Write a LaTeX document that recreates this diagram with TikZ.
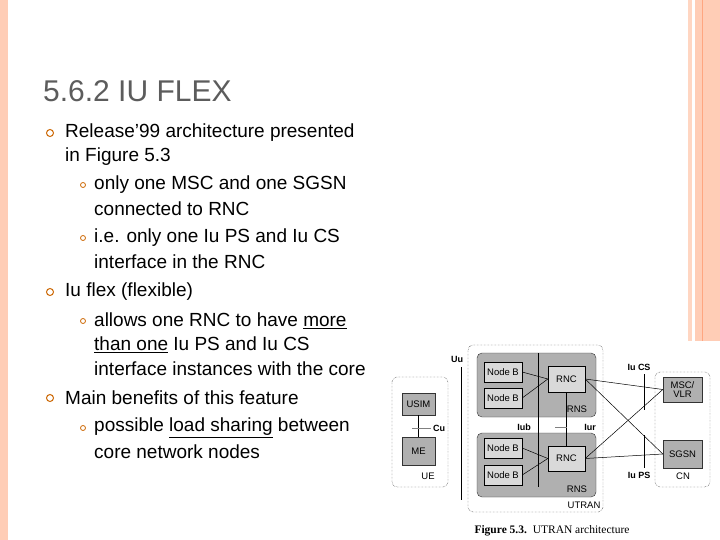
\documentclass[tikz,border=0pt]{standalone}
\usepackage{fontspec}
\setmainfont{Liberation Sans}
\newfontfamily\capfont{Liberation Serif}
\begin{document}
\begin{tikzpicture}[x=1pt,y=-1pt,
  txt/.style={anchor=west,inner sep=0,font=\fontsize{19}{21}\selectfont},
  bul/.style={draw=orange!80!black,line width=1pt,circle,inner sep=0,minimum size=7pt},
  sbul/.style={draw=orange!80!black,line width=0.8pt,circle,inner sep=0,minimum size=5pt},
  fs/.style={font=\fontsize{9.5}{10}\selectfont},
  lab/.style={inner sep=0,font=\fontsize{9}{9}\selectfont\bfseries},
  dk/.style={fill=gray!62,draw=gray!40!black,line width=0.4pt,fs,inner sep=0},
  lt/.style={fill=gray!30,draw=black,line width=0.4pt,fs,inner sep=0},
  dot/.style={draw=black,densely dotted,rounded corners=5pt,line width=0.4pt},
  ln/.style={line width=0.5pt}]
\useasboundingbox (0,0) rectangle (720,540);
\fill[white] (0,0) rectangle (720,540);
\fill[orange!30!pink!60] (0,0) rectangle (8,540);
\fill[orange!30!pink!50] (688,0) rectangle (692,341);
\fill[orange!30!pink!60] (695,0) rectangle (720,341);
\draw[orange!60!red!50,line width=0.8pt] (702,0) -- (702,341);
\node[anchor=west,inner sep=0,text=gray!40!black!80,font=\fontsize{30}{32}\selectfont] (title) at (43,91) {5.6.2 IU FLEX};
\foreach \y/\t in {133/{Release’99 architecture presented},157/{in Figure 5.3},292/{Iu flex (flexible)},398/{Main benefits of this feature}}
  \node[txt] at (65,\y) {\t};
\foreach \y/\t in {185/{only one MSC and one SGSN},209/{connected to RNC},238/{i.e. only one Iu PS and Iu CS},262/{interface in the RNC},321/{allows one RNC to have \underline{more}},345/{\underline{than one} Iu PS and Iu CS},369/{interface instances with the core},428/{possible \underline{load sharing} between},452/{core network nodes}}
  \node[txt] at (94,\y) {\t};
\foreach \y in {133,292,398} \node[bul] at (50,\y) {};
\foreach \y in {185,238,321,428} \node[sbul] at (83,\y) {};
% figure
\draw[dot] (392,377) rectangle (448,487);
\draw[dot] (468,345) rectangle (603,512);
\draw[dot] (655,372) rectangle (710,487);
\node[dk,minimum width=33pt,minimum height=22pt] (usim) at (418.5,404) {USIM};
\node[dk,minimum width=33pt,minimum height=28pt] (me) at (418.5,451) {ME};
\draw[ln] (usim) -- (me);
\draw[gray,ln] (412,428) -- (431,428);
\node[lab] at (439,428) {Cu};
\node[inner sep=0,fs] at (428,476) {UE};
\draw[ln] (461,367) -- (461,500);
\node[lab] at (457,359) {Uu};
\draw[dk,rounded corners=5pt] (477,353) rectangle (596,417);
\draw[dk,rounded corners=5pt] (477,433) rectangle (596,497);
\draw[ln] (538,353) -- (538,487);
\node[lt,minimum width=38pt,minimum height=20pt] (nb1) at (503,372) {Node B};
\node[lt,minimum width=38pt,minimum height=20pt] (nb2) at (503,398) {Node B};
\node[lt,minimum width=38pt,minimum height=20pt] (nb3) at (503,448) {Node B};
\node[lt,minimum width=38pt,minimum height=20pt] (nb4) at (503,475) {Node B};
\node[lt,minimum width=37pt,minimum height=26pt] (rnc1) at (566.5,379) {RNC};
\node[lt,minimum width=37pt,minimum height=25pt] (rnc2) at (566.5,458.5) {RNC};
\draw[ln] (nb1.east) -- (rnc1.west);
\draw[ln] (nb2.east) -- (rnc1.west);
\draw[ln] (nb3.east) -- (rnc2.west);
\draw[ln] (nb4.east) -- (rnc2.west);
\draw[line width=0.8pt] (rnc1) -- (rnc2);
\draw[gray,ln] (555,427) -- (567,427);
\node[lab] at (524,427) {Iub};
\node[lab] at (590,427) {Iur};
\node[inner sep=0,fs] at (577,409) {RNS};
\node[inner sep=0,fs] at (577,489) {RNS};
\node[inner sep=0,fs] at (584,505) {UTRAN};
\node[dk,minimum width=39pt,minimum height=25pt,align=center,font=\fontsize{9.5}{9}\selectfont] (msc) at (682.5,389.5) {MSC/\\VLR};
\node[dk,minimum width=39pt,minimum height=28pt] (sgsn) at (682.5,454) {SGSN};
\node[inner sep=0,fs] at (683,476) {CN};
\draw[ln] (rnc1.east) -- (sgsn.west);
\draw[ln] (rnc1.east) -- (msc.west);
\draw[ln] (rnc2.east) -- (msc.west);
\draw[ln] (rnc2.east) -- (sgsn.west);
\draw[ln] (644,374) -- (644,410);
\draw[ln] (644,435) -- (644,468);
\node[lab] at (639,367) {Iu CS};
\node[lab] at (639,475) {Iu PS};
\node[inner sep=0,font=\capfont\fontsize{11.5}{13}\selectfont] (cap) at (552,531) {\textbf{Figure 5.3.}\ \ UTRAN architecture};
\end{tikzpicture}
\end{document}
